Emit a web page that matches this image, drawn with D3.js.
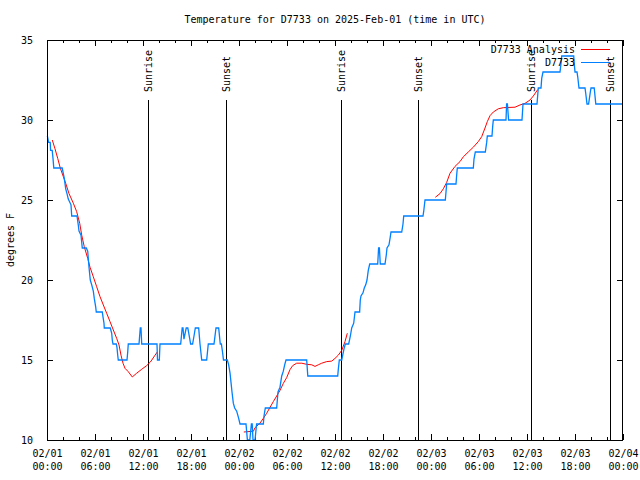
<!DOCTYPE html>
<html>
<head>
<meta charset="utf-8">
<script src="https://cdn.jsdelivr.net/npm/d3@7"></script>
<style>
  html, body { margin: 0; padding: 0; background: #fff; }
  svg { display: block; }
  text { font-family: "DejaVu Sans Mono", "Liberation Mono", monospace; font-size: 10px; fill: #000; }
</style>
</head>
<body>
<svg id="chart" width="640" height="480"></svg>
<script>
// ---------- DATA ----------
const chartTitle = "Temperature for D7733 on 2025-Feb-01 (time in UTC)";
const yAxisLabel = "degrees F";
const seriesNames = ["D7733 Analysis", "D7733"];
const startTime = "2025-02-01T00:00:00Z";

// Observed temperature (hours since 02/01 00:00 UTC, degrees F)
const obsHours = [0.05,0.2,0.4,0.45,0.65,0.75,0.85,1.9,2.16,2.34,2.5,2.66,3.0,3.09,3.75,3.91,4.0,4.25,4.41,4.91,
  5.09,5.16,5.25,5.41,5.59,5.79,5.91,6.09,6.16,6.91,7.0,7.125,7.16,7.91,8.09,8.16,8.25,8.66,8.75,8.84,8.91,
  10.0,10.09,10.16,11.5,11.66,11.75,11.84,13.75,13.81,14.04,14.125,16.71,16.9,17.0,17.12,17.4,17.6,17.85,17.95,
  18.2,18.375,18.54,18.96,19.125,19.34,19.96,20.16,20.875,21.125,21.46,21.66,21.8,21.94,22.06,22.54,22.71,22.875,
  23.0,23.125,23.29,23.46,23.71,23.96,24.125,24.875,25.05,25.35,25.55,25.65,25.75,26.0,26.2,27.04,27.125,27.29,
  28.71,28.79,28.875,29.125,29.34,29.54,29.71,29.875,32.46,32.6,36.34,36.41,36.54,36.84,37.125,37.29,37.71,37.92,
  38.09,38.34,38.5,39.08,39.16,39.25,39.5,39.66,39.84,40.0,40.16,40.34,41.34,41.45,41.55,41.66,42.25,42.41,42.5,
  42.75,42.91,43.0,44.34,44.5,44.59,47.0,47.09,47.25,49.79,49.875,49.96,51.125,51.21,51.29,53.29,53.375,53.54,
  54.79,54.96,55.04,55.625,55.71,55.79,57.375,57.45,57.55,57.7,59.375,59.5,61.25,61.34,61.41,61.75,61.84,62.0,
  64.125,64.25,64.34,65.84,65.91,66.0,66.25,66.34,66.5,67.25,67.34,67.5,67.7,67.9,68.0,68.4,68.6,71.95];
const obsTemps = [29.0,28.6,28.6,28.1,28.1,27.6,27.0,27.0,26.35,25.7,25.4,25.06,24.7,24.0,24.0,23.44,23.06,22.8,22.0,22.0,
  21.8,21.35,20.8,20.0,19.7,19.3,18.85,18.3,18.0,18.0,17.7,17.3,17.0,17.0,16.67,16.25,16.0,16.0,15.77,15.3,15.0,
  15.0,15.5,16.0,16.0,17.0,17.0,16.0,16.0,15.0,15.0,16.0,16.0,17.0,17.0,16.3,17.0,17.0,16.3,16.0,
  16.0,16.5,17.0,17.0,16.0,15.0,15.0,16.0,16.0,17.0,17.0,16.0,16.0,15.5,15.0,15.0,14.7,14.2,
  13.6,13.0,12.3,12.0,11.8,11.35,11.0,11.0,10.0,10.0,11.0,11.0,10.0,10.0,11.0,11.0,11.5,12.0,
  12.0,12.5,13.0,13.3,14.0,14.3,14.7,15.0,15.0,14.0,14.0,14.4,15.0,15.0,15.7,16.0,16.0,16.5,
  17.0,17.3,18.0,18.0,18.75,19.0,19.2,19.5,19.7,20.0,20.6,21.0,21.0,22.0,22.0,21.0,21.0,21.56,22.0,
  22.2,22.7,23.0,23.0,23.5,24.0,24.0,24.3,25.0,25.0,25.5,26.0,26.0,26.56,27.0,27.0,27.56,28.0,
  28.0,28.6,29.0,29.0,29.6,30.0,30.0,31.0,31.0,30.0,30.0,31.0,31.0,31.56,32.0,32.0,32.6,33.0,
  33.0,33.54,34.0,34.0,33.5,33.0,33.0,32.7,32.0,32.0,31.67,31.0,31.0,31.7,32.0,32.0,31.0,31.0];

// Analysis temperature (null = gap)
const anaHours = [0.66,1.0,1.34,1.66,2.04,2.34,2.75,3.29,3.71,4.09,4.34,4.66,5.09,5.375,5.79,6.21,6.625,7.04,7.46,7.875,
  8.29,8.71,9.0,9.25,9.5,9.75,10.16,10.66,11.2,11.84,12.46,12.875,13.1,13.5,13.79,
  null,
  24.6,25.8,26.0,26.6,27.04,27.46,27.875,28.29,28.71,29.125,29.54,29.96,30.375,30.71,31.21,31.84,32.46,33.09,33.5,
  33.91,34.34,34.96,35.59,36.0,36.41,36.84,37.25,37.54,
  null,
  48.54,49.125,49.54,49.96,50.375,51.0,51.625,52.04,52.66,53.29,53.91,54.34,54.75,55.04,55.375,55.79,56.41,57.04,
  58.5,59.125,59.75,60.375,60.79,61.34];
const anaTemps = [28.75,28.2,27.6,27.0,26.46,26.04,25.4,24.8,24.27,23.54,22.8,22.08,21.35,20.8,20.2,19.58,18.96,18.44,17.92,17.4,
  16.875,16.35,15.94,15.3,14.8,14.48,14.27,13.94,14.17,14.42,14.65,14.85,15.0,15.3,15.5,
  null,
  10.5,10.55,10.77,11.04,11.35,11.67,12.04,12.4,12.75,13.1,13.54,13.9,14.4,14.65,14.8,14.8,14.73,14.7,14.6,
  14.7,14.8,14.9,14.93,15.1,15.3,15.6,16.15,16.67,
  null,
  25.17,25.4,25.7,26.1,26.67,27.1,27.4,27.7,28.0,28.3,28.65,28.96,29.5,29.9,30.27,30.5,30.7,30.77,
  30.8,30.94,31.04,31.25,31.5,31.9];

// Sunrise / sunset marks (hours since start)
const sunLabels = ["Sunrise","Sunset","Sunrise","Sunset","Sunrise","Sunset"];
const sunHours  = [12.66, 22.41, 36.71, 46.41, 60.54, 70.41];

// Axis ticks
const yTicks = [10, 15, 20, 25, 30, 35];
const xMajorHours = [0,6,12,18,24,30,36,42,48,54,60,66,72];
const xMinorHours = d3.range(0, 73, 2);

// ---------- DRAW ----------
const svg = d3.select("#chart");
const M = {left: 47, right: 623, top: 40, bottom: 440};
const t0 = new Date(startTime);
const hourToDate = h => new Date(t0.getTime() + h * 3600e3);

const x = d3.scaleUtc().domain([hourToDate(0), hourToDate(72)]).range([M.left, M.right]);
const y = d3.scaleLinear().domain([10, 35]).range([M.bottom, M.top]);

const obs = obsHours.map((h, i) => ({t: hourToDate(h), v: obsTemps[i]}));
const ana = anaHours.map((h, i) => ({t: h == null ? null : hourToDate(h), v: anaTemps[i]}));

const fmtDay = d3.utcFormat("%m/%d"), fmtTime = d3.utcFormat("%H:%M");

// Title
svg.append("text").attr("x", 335).attr("y", 23).attr("text-anchor", "middle").text(chartTitle);

// Y label
svg.append("text").attr("transform", "translate(10,240) rotate(-90)")
  .attr("text-anchor", "middle").attr("dy", "0.35em").text(yAxisLabel);

// Axes (ticks inward, mirrored)
const majorDates = xMajorHours.map(hourToDate);
const minorDates = xMinorHours.filter(h => h % 6 !== 0).map(hourToDate);

function styleAxis(g) {
  g.select(".domain").remove();
  g.selectAll("line").attr("stroke", "#000").attr("shape-rendering", "crispEdges");
}
// bottom major with labels
const gBottom = svg.append("g").attr("transform", `translate(0,${M.bottom})`)
  .call(d3.axisBottom(x).tickValues(majorDates).tickSizeInner(-6).tickSizeOuter(0).tickFormat(() => ""))
  .call(styleAxis);
gBottom.selectAll(".tick").each(function(d) {
  const t = d3.select(this).append("text").attr("text-anchor", "middle").attr("fill", "#000");
  t.append("tspan").attr("x", 0).attr("y", 17).text(fmtDay(d));
  t.append("tspan").attr("x", 0).attr("y", 30).text(fmtTime(d));
});
svg.append("g").attr("transform", `translate(0,${M.bottom})`)
  .call(d3.axisBottom(x).tickValues(minorDates).tickSizeInner(-3).tickSizeOuter(0).tickFormat(() => ""))
  .call(styleAxis);
svg.append("g").attr("transform", `translate(0,${M.top})`)
  .call(d3.axisTop(x).tickValues(majorDates).tickSizeInner(-6).tickSizeOuter(0).tickFormat(() => ""))
  .call(styleAxis);
svg.append("g").attr("transform", `translate(0,${M.top})`)
  .call(d3.axisTop(x).tickValues(minorDates).tickSizeInner(-3).tickSizeOuter(0).tickFormat(() => ""))
  .call(styleAxis);
const gLeft = svg.append("g").attr("transform", `translate(${M.left},0)`)
  .call(d3.axisLeft(y).tickValues(yTicks).tickSizeInner(-6).tickSizeOuter(0).tickPadding(14).tickFormat(d3.format("d")))
  .call(styleAxis);
gLeft.selectAll("text").attr("fill", "#000").attr("font-family", null).attr("font-size", null);
gBottom.selectAll("text").attr("font-family", null).attr("font-size", null);
svg.append("g").attr("transform", `translate(${M.right},0)`)
  .call(d3.axisRight(y).tickValues(yTicks).tickSizeInner(-6).tickSizeOuter(0).tickFormat(() => ""))
  .call(styleAxis);

// Sunrise / sunset lines
sunHours.forEach((h, i) => {
  const xx = Math.round(x(hourToDate(h))) + 0.5;
  svg.append("line").attr("x1", xx).attr("x2", xx).attr("y1", 100).attr("y2", M.bottom)
    .attr("stroke", "#000").attr("stroke-width", 1);
  svg.append("text").attr("transform", `translate(${xx},92) rotate(-90)`)
    .attr("dy", "0.35em").attr("text-anchor", "start").text(sunLabels[i]);
});

// Data lines
const lineGen = d3.line().defined(d => d.t != null && d.v != null).x(d => x(d.t)).y(d => y(d.v));
svg.append("path").datum(ana).attr("d", lineGen).attr("fill", "none")
  .attr("stroke", "#ff0000").attr("stroke-width", 1);
svg.append("path").datum(obs).attr("d", lineGen).attr("fill", "none")
  .attr("stroke", "#0080ff").attr("stroke-width", 1.3);

// Frame
svg.append("rect").attr("x", M.left + 0.5).attr("y", M.top + 0.5)
  .attr("width", M.right - M.left - 1).attr("height", M.bottom - M.top)
  .attr("fill", "none").attr("stroke", "#000").attr("stroke-width", 1);

// Legend
const legendColors = ["#ff0000", "#0080ff"];
seriesNames.forEach((name, i) => {
  const ly = 49 + i * 13;
  svg.append("text").attr("x", 575).attr("y", ly).attr("dy", "0.35em").attr("text-anchor", "end").text(name);
  svg.append("line").attr("x1", 581).attr("x2", 610).attr("y1", ly + 0.5).attr("y2", ly + 0.5)
    .attr("stroke", legendColors[i]).attr("stroke-width", 1);
});
</script>
</body>
</html>
